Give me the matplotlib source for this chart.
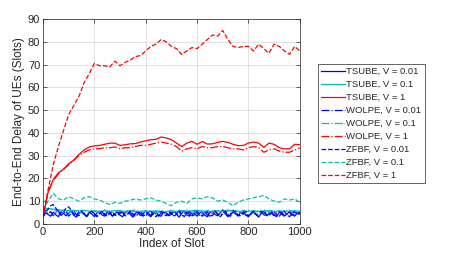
import numpy as np
import matplotlib
matplotlib.use("Agg")
import matplotlib.pyplot as plt

plt.rcParams.update({"font.family": ["Liberation Sans", "DejaVu Sans"], "font.size": 8,
                     "text.color": "#262626", "axes.labelcolor": "#262626",
                     "xtick.color": "#262626", "ytick.color": "#262626"})

# x positions of the read-off samples
slot20 = np.arange(0, 1001, 20)
slot10 = np.arange(0, 1001, 10)

# ---- V = 1 (red), sampled every 20 slots ----
zfbf_1 = [3, 15, 26, 34, 41, 48, 52, 56, 62, 66, 70.5, 69.5, 69.5, 69, 71.5, 69.5, 71, 72, 73.5, 74,
          76, 78, 79, 81, 80, 78, 77, 74.5, 76, 77.5, 77, 79, 81, 83, 82.5, 85, 81, 78, 77.5, 78,
          78, 76, 79, 77, 75, 79, 78, 76, 74.5, 78, 76]
tsube_1 = [3, 14, 19.5, 22.5, 24, 26.5, 28, 30.5, 32.5, 33.8, 34.3, 34.5, 35, 35.5, 35.5, 34.5, 34.8, 35.2,
           35.3, 36, 36.5, 37, 37.2, 38.2, 37.8, 37, 35.5, 34, 35.5, 36.3, 35, 36.2, 35.1, 35.2, 35.8, 36.3,
           35.8, 35, 34.4, 34.5, 35.5, 36, 35.5, 33.6, 35.5, 35, 33.5, 33, 33, 35, 34.8]
wolpe_1 = [3, 14, 19, 22, 24, 26, 28, 30, 31.5, 32.5, 33, 33, 33.5, 33.5, 33.8, 33, 33.5, 33.5, 34, 34.5,
           34.5, 35, 35.5, 36, 35.5, 35, 34, 32, 33, 33.5, 33, 34, 33.5, 33.5, 34, 34, 33.5, 33, 33,
           32.5, 33.5, 34, 33.5, 31.5, 32.5, 33, 32, 31.5, 31.5, 32.5, 33.4]

# ---- V = 0.1 (cyan), sampled every 20 slots ----
zfbf_01 = [6, 10, 13.5, 11, 10.5, 12, 11, 10, 11.5, 12, 11, 10.5, 9.5, 8.5, 9.5, 9, 10, 10.5, 11, 10.5,
           11, 11.5, 10.5, 10, 9, 8, 9.5, 10, 9, 11, 11.5, 11, 12, 11.5, 10, 10.5, 9.5, 8, 9.5, 10.5,
           11, 11.5, 12, 12.5, 11, 10, 9.5, 11, 10.5, 11, 9.5]
tsube_01 = [6.5, 6.8, 6.5, 6.2, 6.0, 5.8, 6.0, 5.7, 5.9, 5.6, 5.8, 5.5, 5.7, 5.6, 5.9, 5.5, 5.6, 5.8, 5.4,
            5.6, 5.7, 5.5, 5.8, 5.6, 5.4, 5.7, 5.5, 5.9, 5.6, 5.8, 6.0, 5.7, 5.5, 5.6, 5.8, 5.5, 5.7,
            5.9, 5.6, 5.4, 5.6, 5.8, 5.5, 5.7, 5.9, 5.6, 5.5, 5.7, 5.6, 5.8, 5.6]
wolpe_01 = [4.5, 6.5, 6.0, 5.2, 6.2, 5.0, 5.8, 4.8, 6.0, 5.2, 5.6, 4.8, 6.2, 5.0, 5.4, 6.0, 4.8, 5.6, 6.2,
            5.0, 5.4, 6.0, 4.8, 5.8, 5.2, 6.0, 4.8, 5.6, 6.2, 5.0, 5.6, 4.8, 6.0, 5.2, 5.8, 5.0, 6.2,
            5.4, 4.8, 5.8, 6.0, 5.0, 5.6, 6.2, 5.2, 4.8, 5.8, 5.4, 6.0, 5.0, 5.6]

# ---- V = 0.01 (blue), sampled every 10 slots ----
tsube_001 = [3.0, 5.0, 4.2, 3.4, 5.2, 4.0, 3.2, 5.4, 4.6, 3.6,
             4.8, 5.6, 3.8, 3.0, 4.6, 5.4, 4.2, 3.4, 5.0, 4.4,
             3.2, 4.8, 5.6, 4.0, 3.4, 5.2, 4.6, 3.6, 4.4, 5.4,
             3.8, 3.2, 5.0, 5.6, 4.2, 3.0, 4.8, 5.2, 3.6, 4.4,
             5.8, 4.0, 3.2, 4.6, 5.4, 3.8, 3.4, 5.2, 4.8, 3.6,
             4.2, 5.6, 4.4, 3.0, 4.6, 5.8, 4.0, 3.4, 5.0, 4.6,
             3.4, 4.8, 5.4, 3.8, 3.2, 5.0, 5.6, 4.2, 3.6, 4.8,
             6.2, 4.4, 3.2, 4.0, 5.4, 4.6, 3.4, 5.2, 5.8, 3.8,
             3.2, 4.6, 5.6, 4.2, 3.0, 4.8, 5.4, 3.6, 4.4, 5.6,
             4.0, 3.2, 5.0, 5.2, 3.6, 4.2, 5.6, 4.4, 3.4, 4.8, 5.0]
wolpe_001 = [3.0, 6.0, 4.4, 5.4, 3.6, 4.8, 5.8, 3.8, 4.4, 5.6,
             3.4, 4.6, 5.8, 4.0, 3.6, 5.2, 4.8, 3.2, 4.4, 5.6,
             4.6, 3.4, 4.2, 5.4, 3.8, 4.8, 5.6, 3.4, 4.2, 5.0,
             4.4, 5.4, 3.6, 4.6, 5.2, 3.8, 4.2, 5.6, 4.6, 3.4,
             4.4, 5.0, 3.6, 5.4, 4.2, 3.4, 4.8, 5.6, 3.8, 4.2,
             5.2, 3.6, 4.8, 5.4, 3.4, 4.4, 5.2, 4.2, 3.6, 5.6,
             4.6, 3.8, 4.4, 5.2, 4.0, 3.4, 4.8, 5.8, 4.2, 3.6,
             4.8, 5.4, 3.6, 4.6, 6.0, 4.4, 3.8, 5.0, 4.2, 5.6,
             3.6, 4.4, 5.2, 3.8, 4.8, 5.6, 4.0, 3.4, 5.0, 4.6,
             3.6, 4.8, 5.6, 4.2, 3.4, 4.6, 5.2, 3.8, 4.4, 5.4, 4.2]
zfbf_001 = [3.0, 5.0, 6.5, 8.0, 8.5, 7.0, 5.0, 4.0, 5.2, 7.0,
            7.5, 6.0, 4.4, 3.6, 5.4, 5.8, 4.0, 3.4, 5.0, 5.6,
            4.2, 3.2, 4.6, 5.6, 4.4, 3.4, 4.8, 5.4, 3.8, 3.6,
            5.2, 5.0, 3.6, 4.2, 5.6, 4.6, 3.2, 4.4, 5.4, 4.0,
            3.4, 5.0, 5.6, 3.8, 3.2, 4.8, 5.4, 4.2, 3.6, 5.2,
            4.6, 3.4, 4.2, 5.8, 4.4, 3.2, 4.6, 5.4, 3.6, 4.0,
            5.6, 4.4, 3.4, 4.8, 5.2, 3.8, 3.6, 5.4, 4.6, 3.2,
            4.4, 5.8, 4.2, 3.4, 5.0, 5.6, 3.8, 3.6, 5.2, 4.4,
            3.4, 4.8, 5.6, 4.0, 3.2, 4.6, 5.8, 4.2, 3.6, 5.0,
            5.4, 3.8, 3.4, 4.8, 5.6, 4.0, 3.2, 4.6, 5.4, 4.2, 4.6]

series = [
    ("TSUBE, V = 0.01", slot10, tsube_001, "b", "-"),
    ("TSUBE, V = 0.1", slot20, tsube_01, "c", "-"),
    ("TSUBE, V = 1", slot20, tsube_1, "r", "-"),
    ("WOLPE, V = 0.01", slot10, wolpe_001, "b", "-."),
    ("WOLPE, V = 0.1", slot20, wolpe_01, "c", "-."),
    ("WOLPE, V = 1", slot20, wolpe_1, "r", "-."),
    ("ZFBF, V = 0.01", slot10, zfbf_001, "b", "--"),
    ("ZFBF, V = 0.1", slot20, zfbf_01, "c", "--"),
    ("ZFBF, V = 1", slot20, zfbf_1, "r", "--"),
]

fig = plt.figure(figsize=(4.57, 2.58), dpi=100)
ax = fig.add_axes([0.094, 0.132, 0.562, 0.794])
for lab, x, y, c, ls in series:
    ax.plot(x, y, color=c, ls=ls, lw=0.9, label=lab)

ax.set_xlim(0, 1000); ax.set_ylim(0, 90)
ax.set_xticks(range(0, 1001, 200)); ax.set_yticks(range(0, 91, 10))
ax.grid(True, color="#dcdcdc", lw=0.6)
ax.tick_params(direction="in", length=3, width=0.5, top=True, right=True, labelsize=8, pad=2)
for s in ax.spines.values():
    s.set_color("#262626"); s.set_linewidth(0.5)
ax.set_xlabel("Index of Slot", fontsize=8.5, labelpad=1)
ax.set_ylabel("End-to-End Delay of UEs (Slots)", fontsize=8.5, labelpad=2)

leg = ax.legend(loc="upper left", bbox_to_anchor=(0.696, 0.752), bbox_transform=fig.transFigure,
                fontsize=6.8, handlelength=2.5, handletextpad=0.15, labelspacing=0.42,
                borderpad=0.35, fancybox=False, framealpha=1, borderaxespad=0)
leg.get_frame().set_edgecolor("#262626"); leg.get_frame().set_linewidth(0.5)

fig.savefig("out.png", dpi=100)
